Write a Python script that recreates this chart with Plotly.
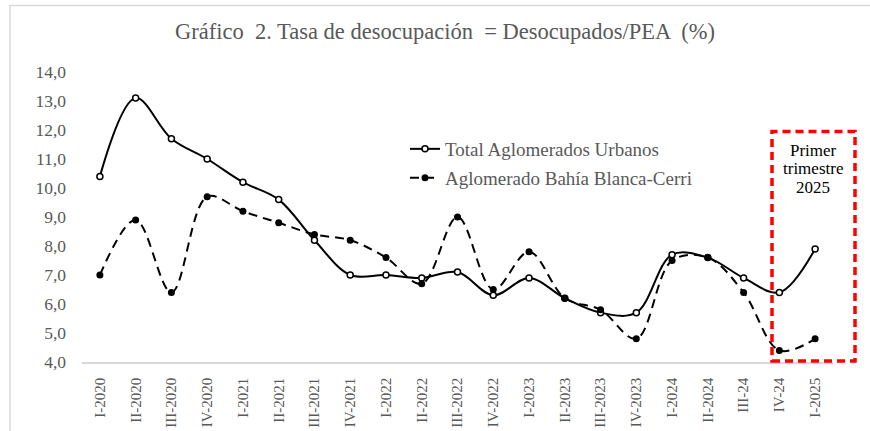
import plotly.graph_objects as go

categories = ["I-2020", "II-2020", "III-2020", "IV-2020",
              "I-2021", "II-2021", "III-2021", "IV-2021",
              "I-2022", "II-2022", "III-2022", "IV-2022",
              "I-2023", "II-2023", "III-2023", "IV-2023",
              "I-2024", "II-2024", "III-24", "IV-24", "I-2025"]

total_aglomerados = [10.4, 13.1, 11.7, 11.0, 10.2, 9.6, 8.2, 7.0, 7.0, 6.9, 7.1,
                     6.3, 6.9, 6.2, 5.7, 5.7, 7.7, 7.6, 6.9, 6.4, 7.9]

bahia_blanca = [7.0, 8.9, 6.4, 9.7, 9.2, 8.8, 8.4, 8.2, 7.6, 6.7, 9.0,
                6.5, 7.8, 6.2, 5.8, 4.8, 7.5, 7.6, 6.4, 4.4, 4.8]

y_ticks = [4, 5, 6, 7, 8, 9, 10, 11, 12, 13, 14]

box_lines = ["Primer", "trimestre", "2025"]

FONT = "Liberation Serif, Times New Roman, serif"
GRAY = "#595959"

W, H = 870, 431
ML, MR, MT, MB = 82, 37, 72, 69
PW, PH = W - ML - MR, H - MT - MB


def px_x(x):
    return (x - ML) / PW


def px_y(y):
    return (H - MB - y) / PH


fig = go.Figure()

fig.add_trace(go.Scatter(
    x=categories, y=total_aglomerados, name="Total Aglomerados Urbanos",
    mode="lines+markers",
    line=dict(color="black", width=2, shape="spline", smoothing=1.0),
    marker=dict(symbol="circle", size=6, color="white",
                line=dict(color="black", width=1.5)),
    legend="legend",
))

fig.add_trace(go.Scatter(
    x=categories, y=bahia_blanca, name="Aglomerado Bahía Blanca-Cerri",
    mode="lines+markers",
    line=dict(color="black", width=2, dash="9px,6px", shape="spline", smoothing=1.0),
    marker=dict(symbol="circle", size=7, color="black"),
    legend="legend2",
))

legend_common = dict(
    bgcolor="rgba(0,0,0,0)", borderwidth=0,
    font=dict(family=FONT, size=19, color=GRAY),
    xanchor="left", yanchor="middle",
)

annotations = [
    dict(text=t, xref="paper", yref="paper",
         x=px_x(813), y=px_y(yy),
         xanchor="center", yanchor="middle", showarrow=False,
         font=dict(family=FONT, size=17, color="black"))
    for t, yy in zip(box_lines, [150, 168.5, 187])
]

fig.update_layout(
    width=W, height=H,
    paper_bgcolor="white", plot_bgcolor="white",
    separators=",.",
    margin=dict(l=ML, r=MR, t=MT, b=MB, autoexpand=False),
    title=dict(text="Gráfico  2. Tasa de desocupación  = Desocupados/PEA  (%)",
               x=px_x(445), xref="paper", xanchor="center",
               y=1 - 31 / H, yref="container", yanchor="middle",
               font=dict(family=FONT, size=22.5, color=GRAY)),
    showlegend=True,
    legend=dict(x=px_x(405), y=px_y(149), **legend_common),
    legend2=dict(x=px_x(405), y=px_y(178), **legend_common),
    xaxis=dict(
        type="category", categoryorder="array", categoryarray=categories,
        range=[-0.5, len(categories) - 0.5], automargin=False,
        tickangle=-90, showgrid=False, zeroline=False,
        showline=True, linecolor="#d9d9d9", linewidth=1.5,
        ticks="", ticklabelstandoff=8,
        tickfont=dict(family=FONT, size=15, color=GRAY),
    ),
    yaxis=dict(
        range=[4, 14], tickvals=y_ticks, tickformat=".1f", automargin=False,
        showgrid=False, zeroline=False, showline=False, ticks="",
        ticklabelstandoff=15,
        tickfont=dict(family=FONT, size=17.5, color=GRAY),
    ),
    shapes=[
        dict(type="rect", xref="paper", yref="paper",
             x0=px_x(772), x1=px_x(855),
             y0=px_y(361), y1=px_y(131.5),
             line=dict(color="#ff0000", width=3.5, dash="8px,5px"),
             fillcolor="rgba(0,0,0,0)", layer="above"),
        dict(type="rect", xref="paper", yref="paper",
             x0=px_x(10), x1=px_x(W + 20),
             y0=px_y(H + 20), y1=px_y(5.5),
             line=dict(color="#d9d9d9", width=1.5),
             fillcolor="rgba(0,0,0,0)", layer="below"),
    ],
    annotations=annotations,
)

fig.write_html(
    "out.html",
    config={"displayModeBar": False},
    post_script="document.body.style.margin='0';document.body.style.overflow='hidden';",
)
